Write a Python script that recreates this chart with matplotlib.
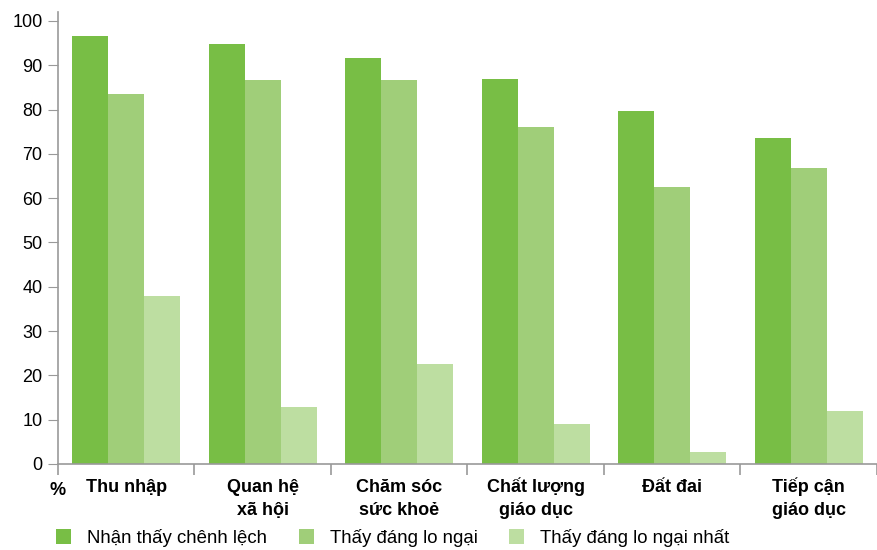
import numpy as np
import matplotlib.pyplot as plt

plt.rcParams['font.family'] = ['Liberation Sans', 'DejaVu Sans']

# Số liệu theo lĩnh vực (%)
categories = ["Thu nhập", "Quan hệ\nxã hội", "Chăm sóc\nsức khoẻ",
              "Chất lượng\ngiáo dục", "Đất đai", "Tiếp cận\ngiáo dục"]
nhan_thay = [96.6, 94.8, 91.6, 86.9, 79.7, 73.6]
dang_lo_ngai = [83.6, 86.7, 86.7, 76.1, 62.5, 66.8]
lo_ngai_nhat = [38.0, 12.9, 22.6, 9.0, 2.7, 12.0]
series_names = ["Nhận thấy chênh lệch", "Thấy đáng lo ngại", "Thấy đáng lo ngại nhất"]
colors = ["#78BE45", "#A0CE79", "#BDDEA1"]

fig = plt.figure(figsize=(8.77, 5.5), dpi=100)
ax = fig.add_axes([0.066, 0.1564, 0.934, 0.8216])

x = np.arange(len(categories))
w = 0.264
for i, (vals, name, c) in enumerate(zip([nhan_thay, dang_lo_ngai, lo_ngai_nhat], series_names, colors)):
    ax.bar(x + (i - 1) * w, vals, width=w, color=c, label=name, linewidth=0)

ax.set_xlim(-0.5, len(categories) - 0.5)
ax.set_ylim(0, 102)
ax.set_yticks(range(0, 101, 10))
ax.tick_params(axis='y', labelsize=13, length=7, color='#999999', pad=4)

# vạch chia ở ranh giới nhóm, nhãn nhóm viết tay từng dòng
ax.set_xticks([])
ax.set_xticks(np.arange(-0.5, len(categories), 1), minor=True)
ax.tick_params(axis='x', which='minor', length=8, color='#999999', width=1.2)
line_y = [-0.062, -0.113]
for xi, label in zip(x, categories):
    for j, line in enumerate(label.split("\n")):
        ax.text(xi, line_y[j], line, transform=ax.get_xaxis_transform(),
                ha='center', va='baseline', fontsize=13, fontweight='bold')

for s in ['top', 'right']:
    ax.spines[s].set_visible(False)
for s in ['left', 'bottom']:
    ax.spines[s].set_color('#999999')
    ax.spines[s].set_linewidth(1.2)

fig.text(0.066, 0.109, "%", fontsize=13, fontweight='bold', ha='center', va='center')

fig.legend(loc='lower left', bbox_to_anchor=(0.045, -0.025), ncol=3, frameon=False,
           fontsize=13.4, handlelength=0.8, handleheight=0.85, columnspacing=1.7,
           handletextpad=0.86)

fig.savefig("out.png", dpi=100)
